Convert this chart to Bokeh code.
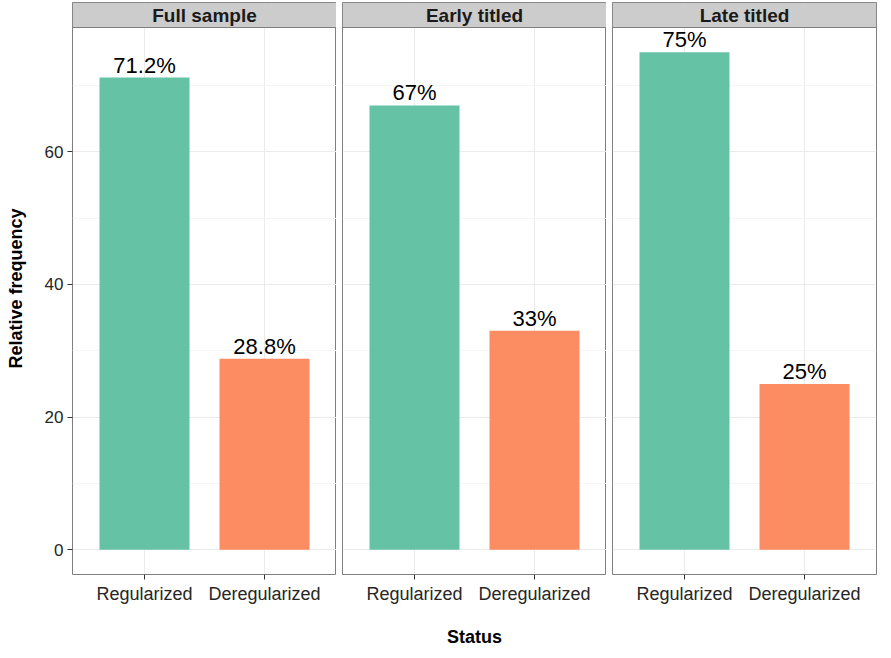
from bokeh.plotting import figure
from bokeh.layouts import row
from bokeh.models import Range1d, FixedTicker
from bokeh.core.properties import value
from bokeh.embed import file_html
from bokeh.resources import INLINE

panels = ["Full sample", "Early titled", "Late titled"]
statuses = ["Regularized", "Deregularized"]
full_sample = [71.2, 28.8]
early_titled = [67, 33]
late_titled = [75, 25]
labels_full = ["71.2%", "28.8%"]
labels_early = ["67%", "33%"]
labels_late = ["75%", "25%"]
y_ticks = [0, 20, 40, 60]
y_minor = [10, 30, 50, 70]
colors = ["#66C2A5", "#FC8D62"]

series = [full_sample, early_titled, late_titled]
labels = [labels_full, labels_early, labels_late]

FONT = value("Liberation Sans")
FRAME_W = 264
MAIN_H = 547
STRIP_H = 25

ymax = max(max(s) for s in series)
pad = 0.05 * ymax
y_lo, y_hi = -pad, ymax + pad
upp = (y_hi - y_lo) / MAIN_H
strip_top = y_hi + STRIP_H * upp

xs = [i + 1 for i in range(len(statuses))]
x_lo, x_hi = 1 - 0.6, len(statuses) + 0.6

figs = []
for k, (name, vals, labs) in enumerate(zip(panels, series, labels)):
    first = k == 0
    p = figure(
        frame_width=FRAME_W,
        frame_height=MAIN_H + STRIP_H,
        x_range=Range1d(x_lo, x_hi),
        y_range=Range1d(y_lo, strip_top),
        output_backend="svg",
        toolbar_location=None,
        y_axis_location="left" if first else None,
        min_border_top=2,
        min_border_bottom=68,
        min_border_left=72 if first else 6,
        min_border_right=1 if k == len(panels) - 1 else 0,
    )
    p.background_fill_color = "white"
    p.border_fill_color = "white"
    p.outline_line_color = "#7F7F7F"
    p.outline_line_width = 1

    # grid
    p.xgrid.ticker = FixedTicker(ticks=xs)
    p.ygrid.ticker = FixedTicker(ticks=y_ticks, minor_ticks=y_minor)
    p.xgrid.grid_line_color = "#EBEBEB"
    p.ygrid.grid_line_color = "#EBEBEB"
    p.ygrid.minor_grid_line_color = "#F5F5F5"

    # x axis
    xa = p.xaxis[0]
    xa.ticker = FixedTicker(ticks=xs)
    xa.major_label_overrides = {x: s for x, s in zip(xs, statuses)}
    xa.axis_line_color = None
    xa.major_tick_line_color = "#333333"
    xa.major_tick_out = 5
    xa.major_tick_in = 0
    xa.minor_tick_line_color = None
    xa.major_label_text_font = "Liberation Sans"
    xa.major_label_text_font_size = "18px"
    xa.major_label_text_color = "#262626"
    xa.major_label_standoff = 4
    if k == 1:
        xa.axis_label = "Status"
        xa.axis_label_text_font = "Liberation Sans"
        xa.axis_label_text_font_style = "bold"
        xa.axis_label_text_font_size = "18px"
        xa.axis_label_text_color = "black"
        xa.axis_label_standoff = 20

    if first:
        ya = p.yaxis[0]
        ya.ticker = FixedTicker(ticks=y_ticks)
        ya.axis_line_color = None
        ya.major_tick_line_color = "#333333"
        ya.major_tick_out = 5
        ya.major_tick_in = 0
        ya.minor_tick_line_color = None
        ya.major_label_text_font = "Liberation Sans"
        ya.major_label_text_font_size = "17px"
        ya.major_label_text_color = "#262626"
        ya.major_label_standoff = 4
        ya.axis_label = "Relative frequency"
        ya.axis_label_text_font = "Liberation Sans"
        ya.axis_label_text_font_style = "bold"
        ya.axis_label_text_font_size = "18px"
        ya.axis_label_text_color = "black"
        ya.axis_label_standoff = 16

    # bars
    p.vbar(x=xs, top=vals, bottom=0, width=0.75, fill_color=colors, line_color=None)
    p.text(x=xs, y=vals, text=labs, text_align="center", text_baseline="bottom",
           y_offset=0, text_font=FONT, text_font_size="22px", text_color="black")

    # strip
    p.quad(left=[x_lo], right=[x_hi], bottom=[y_hi], top=[strip_top],
           fill_color="#CCCCCC", line_color="#7F7F7F", line_width=1)
    p.text(x=[(x_lo + x_hi) / 2], y=[(y_hi + strip_top) / 2], text=[name],
           text_align="center", text_baseline="middle", text_font=FONT,
           text_font_style="bold", text_font_size="19px", text_color="#1A1A1A")
    figs.append(p)

layout = row(*figs)
open("out.html", "w").write(file_html(layout, INLINE))
